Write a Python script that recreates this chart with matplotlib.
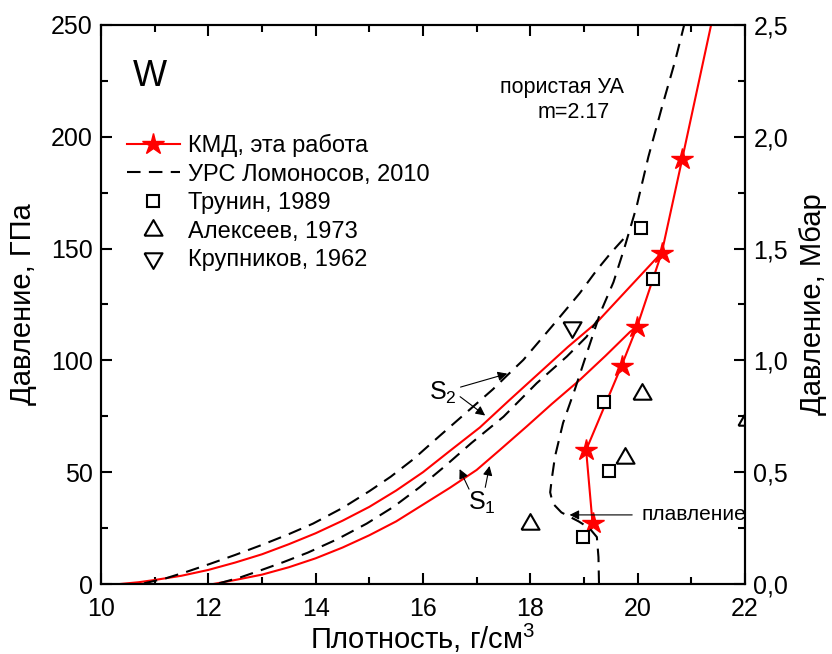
import numpy as np
import matplotlib
matplotlib.use("Agg")
import matplotlib.pyplot as plt
from matplotlib.ticker import MultipleLocator, FuncFormatter

plt.rcParams['font.family'] = ['Liberation Sans', 'DejaVu Sans']
plt.rcParams['mathtext.fontset'] = 'custom'
plt.rcParams['mathtext.rm'] = 'Liberation Sans'
plt.rcParams['mathtext.it'] = 'Liberation Sans'

##------------------- DATA (density g/cm3, pressure GPa)
# KMD, this work (stars); last point only continues the line
kmd_rho = [19.16, 19.04, 19.70, 19.99, 20.45, 20.83, 21.45]
kmd_p = [27.1, 59.9, 97.6, 115.1, 148.2, 190.0, 259.0]

# KMD porous hugoniots (red solid)
s2_red_rho = [10.35, 10.7, 11.0, 11.5, 12.0, 12.5, 13.0, 13.5, 14.0, 14.5, 15.0, 15.5,
              16.0, 16.5, 17.06, 17.6, 18.15, 18.7, 19.24, 19.86, 20.45]
s2_red_p = [0.0, 0.8, 1.8, 3.7, 6.3, 9.6, 13.3, 17.8, 22.7, 28.3, 34.5, 41.8,
            50.0, 59.5, 70.0, 82.0, 94.0, 106.0, 117.0, 133.0, 148.2]
s1_red_rho = [12.09, 12.5, 13.0, 13.5, 14.0, 14.5, 15.0, 15.5, 16.0, 16.5, 17.0, 17.43,
              17.93, 18.4, 18.92, 19.4, 19.86, 19.99]
s1_red_p = [0.0, 1.8, 4.2, 7.5, 11.5, 16.3, 21.8, 28.0, 35.5, 43.0, 51.0, 59.9,
            70.4, 80.5, 91.2, 102.0, 112.8, 115.1]

# Lomonosov EOS, 2010 (black dashed)
s2_eos_rho = [10.8, 11.2, 11.6, 12.03, 12.5, 13.0, 13.5, 13.95, 14.5, 15.0, 15.4, 15.82,
              16.3, 16.8, 17.3, 17.6, 17.87, 18.4, 18.92, 19.24, 19.5, 19.8]
s2_eos_p = [0.3, 2.5, 5.5, 9.0, 13.0, 17.5, 22.3, 27.0, 34.0, 41.5, 48.0, 55.8,
            66.0, 76.5, 87.0, 94.0, 100.2, 115.1, 130.0, 140.4, 148.0, 156.0]
s1_eos_rho = [12.2, 12.6, 12.96, 13.4, 13.85, 14.4, 14.95, 15.45, 15.94, 16.4, 16.9,
              17.5, 18.12, 18.68, 19.05, 19.25]
s1_eos_p = [0.3, 3.0, 6.0, 9.8, 14.0, 20.0, 27.0, 34.5, 43.3, 52.5, 63.0,
            74.8, 89.8, 101.7, 110.6, 118.0]
solid_eos_rho = [19.28, 19.27, 19.24, 19.1, 18.9, 18.58, 18.42, 18.37, 18.40, 18.46, 18.61,
                 18.83, 19.05, 19.30, 19.55, 19.75, 19.98, 20.2, 20.45, 20.7, 20.92]
solid_eos_p = [0.0, 12.0, 21.0, 25.0, 28.0, 32.0, 36.0, 41.0, 47.0, 57.0, 72.0,
               87.0, 103.0, 121.0, 135.0, 150.0, 168.7, 191.0, 213.0, 234.0, 255.0]

# experiments
trunin_rho = [18.99, 19.47, 19.37, 20.29, 20.07]
trunin_p = [20.9, 50.7, 81.5, 136.5, 159.3]
alekseev_rho = [17.99, 19.76, 20.09, 22.03]
alekseev_p = [26.8, 56.2, 85.0, 73.5]
krupnikov_rho = [18.78]
krupnikov_p = [115.1]

##------------------- PLOT
tri_up = [(-1, -0.577), (1, -0.577), (0, 1.155), (-1, -0.577)]
tri_dn = [(-1, 0.577), (1, 0.577), (0, -1.155), (-1, 0.577)]
dash = (0, (6.5, 4))

fig = plt.figure(figsize=(8.32, 6.54), dpi=100)
ax = fig.add_axes([0.1214, 0.107, 0.774, 0.855])

ax.plot(s2_red_rho, s2_red_p, color='red', lw=1.5)
ax.plot(s1_red_rho, s1_red_p, color='red', lw=1.5)
ax.plot(kmd_rho, kmd_p, color='red', lw=1.5, marker='*', ms=16,
        markevery=list(range(6)), label='КМД, эта работа')
ax.plot(solid_eos_rho, solid_eos_p, color='black', lw=1.5, linestyle=dash,
        label='УРС Ломоносов, 2010')
ax.plot(s2_eos_rho, s2_eos_p, color='black', lw=1.5, linestyle=dash)
ax.plot(s1_eos_rho, s1_eos_p, color='black', lw=1.5, linestyle=dash)
ax.plot(trunin_rho, trunin_p, linestyle='none', marker='s', ms=9, mfc='white',
        mec='black', mew=1.5, label='Трунин, 1989')
ax.plot(alekseev_rho, alekseev_p, linestyle='none', marker=tri_up, ms=15, mfc='none',
        mec='black', mew=1.5, label='Алексеев, 1973')
ax.plot(krupnikov_rho, krupnikov_p, linestyle='none', marker=tri_dn, ms=15, mfc='none',
        mec='black', mew=1.5, label='Крупников, 1962')

ax.set_xlim(10, 22)
ax.set_ylim(0, 250)
ax.xaxis.set_major_locator(MultipleLocator(2))
ax.xaxis.set_minor_locator(MultipleLocator(1))
ax.yaxis.set_major_locator(MultipleLocator(50))
ax.yaxis.set_minor_locator(MultipleLocator(25))

ax.tick_params(which='both', direction='in', top=True, right=False, width=1.5)
ax.tick_params(which='major', length=8, labelsize=18, pad=6)
ax.tick_params(axis='x', which='major', pad=9)
ax.tick_params(which='minor', length=5)
for sp in ax.spines.values():
    sp.set_linewidth(1.5)

ax.set_xlabel('Плотность, г/см$^3$', fontsize=21, labelpad=1)
ax.set_ylabel('Давление, ГПа', fontsize=21, labelpad=10)

ax2 = ax.twinx()
ax2.set_ylim(0, 2.5)
ax2.yaxis.set_major_locator(MultipleLocator(0.5))
ax2.yaxis.set_minor_locator(MultipleLocator(0.25))
ax2.yaxis.set_major_formatter(FuncFormatter(lambda v, pos: ('%.1f' % v).replace('.', ',')))
ax2.tick_params(which='both', direction='in', width=1.5)
ax2.tick_params(which='major', length=8, labelsize=18, pad=6)
ax2.tick_params(which='minor', length=5)
ax2.set_ylabel('Давление, Мбар', fontsize=21, labelpad=8)
for sp in ax2.spines.values():
    sp.set_linewidth(1.5)

leg = ax.legend(loc='upper left', bbox_to_anchor=(0.04, 0.805), frameon=False,
                fontsize=17, handlelength=2.25, handletextpad=0.34, labelspacing=0.28,
                borderpad=0, borderaxespad=0, numpoints=1)

# annotations
ax.text(10.91, 227, 'W', fontsize=26, ha='center', va='center')
ax.text(18.59, 222, 'пористая УА', fontsize=15.5, ha='center', va='center')
ax.text(18.8, 211, 'm=2.17', fontsize=15.5, ha='center', va='center')

arrow = dict(arrowstyle='-|>', color='black', lw=0.8, mutation_scale=14)
ax.text(16.37, 85.4, 'S$_2$', fontsize=18, ha='center', va='center')
ax.annotate('', xy=(17.62, 94.4), xytext=(16.65, 87.7), arrowprops=arrow)
ax.annotate('', xy=(17.2, 74.6), xytext=(16.65, 84.5), arrowprops=arrow)
ax.text(17.09, 36.1, 'S$_1$', fontsize=18, ha='center', va='center')
ax.annotate('', xy=(16.66, 52.5), xytext=(16.88, 41.3), arrowprops=arrow)
ax.annotate('', xy=(17.25, 54.0), xytext=(17.15, 42.0), arrowprops=arrow)
ax.annotate('', xy=(18.68, 30.9), xytext=(19.95, 30.9), arrowprops=arrow)
ax.text(20.07, 30.9, 'плавление', fontsize=15, ha='left', va='center')

fig.savefig('out.png', dpi=100)
